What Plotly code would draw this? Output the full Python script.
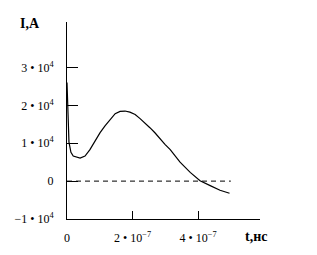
import plotly.graph_objects as go

# Current I (A) vs time t (s)
t_vals = [0.0, 0.03e-7, 0.06e-7, 0.12e-7, 0.19e-7, 0.40e-7, 0.55e-7, 0.70e-7, 0.855e-7,
          1.01e-7, 1.16e-7, 1.31e-7, 1.47e-7, 1.62e-7, 1.77e-7, 1.92e-7, 2.08e-7,
          2.23e-7, 2.38e-7, 2.53e-7, 2.69e-7, 2.84e-7, 2.99e-7, 3.15e-7, 3.45e-7,
          3.76e-7, 4.06e-7, 4.37e-7, 4.67e-7, 4.96e-7]
i_vals = [2.6e4, 1.42e4, 1.03e4, 0.76e4, 0.66e4, 0.61e4, 0.66e4, 0.83e4, 1.06e4,
          1.28e4, 1.46e4, 1.63e4, 1.78e4, 1.84e4, 1.85e4, 1.82e4, 1.76e4,
          1.65e4, 1.54e4, 1.41e4, 1.27e4, 1.11e4, 0.97e4, 0.83e4, 0.5e4,
          0.23e4, 0.01e4, -0.12e4, -0.24e4, -0.32e4]

zero_t = [0.0, 5.0e-7]
zero_i = [0.0, 0.0]

y_tickvals = [-1e4, 0, 1e4, 2e4, 3e4]
y_ticktext = ["\u22121 \u2022 10<sup>4</sup>", "0", "1 \u2022 10<sup>4</sup>",
              "2 \u2022 10<sup>4</sup>", "3 \u2022 10<sup>4</sup>"]
x_tickvals = [0, 2e-7, 4e-7]
x_ticktext = ["0", "2 \u2022 10<sup>\u22127</sup>", "4 \u2022 10<sup>\u22127</sup>"]

font = dict(family="Liberation Serif", size=12, color="black")

fig = go.Figure()
fig.add_trace(go.Scatter(x=zero_t, y=zero_i, mode="lines",
                         line=dict(color="black", width=1, dash="5px,4px"),
                         hoverinfo="skip"))
fig.add_trace(go.Scatter(x=t_vals, y=i_vals, mode="lines",
                         line=dict(color="black", width=1.2),
                         hoverinfo="skip"))

fig.update_layout(
    width=317, height=255,
    margin=dict(l=67, r=57, t=22, b=36, autoexpand=False),
    paper_bgcolor="white", plot_bgcolor="white",
    showlegend=False, font=font,
    xaxis=dict(range=[0, 5.89e-7], showgrid=False, zeroline=False, automargin=False,
               showline=True, linecolor="black", linewidth=1,
               ticks="inside", ticklen=8, tickcolor="black", tickwidth=1,
               tickvals=x_tickvals, ticktext=x_ticktext, tickfont=font,
               ticklabelstandoff=8),
    yaxis=dict(range=[-1e4, 4.2e4], showgrid=False, zeroline=False, automargin=False,
               showline=True, linecolor="black", linewidth=1,
               ticks="inside", ticklen=11, tickcolor="black", tickwidth=1,
               tickvals=y_tickvals, ticktext=y_ticktext, tickfont=font,
               ticklabelstandoff=10),
    annotations=[
        dict(text="<b>I,A</b>", x=-0.19, y=0.99, xref="paper", yref="paper",
             xanchor="center", yanchor="middle", showarrow=False,
             font=dict(family="Liberation Serif", size=14, color="black")),
        dict(text="<b>t,нс</b>", x=0.979, y=-0.091, xref="paper", yref="paper",
             xanchor="center", yanchor="middle", showarrow=False,
             font=dict(family="Liberation Serif", size=14, color="black")),
    ],
)

fig.write_html("out.html")
